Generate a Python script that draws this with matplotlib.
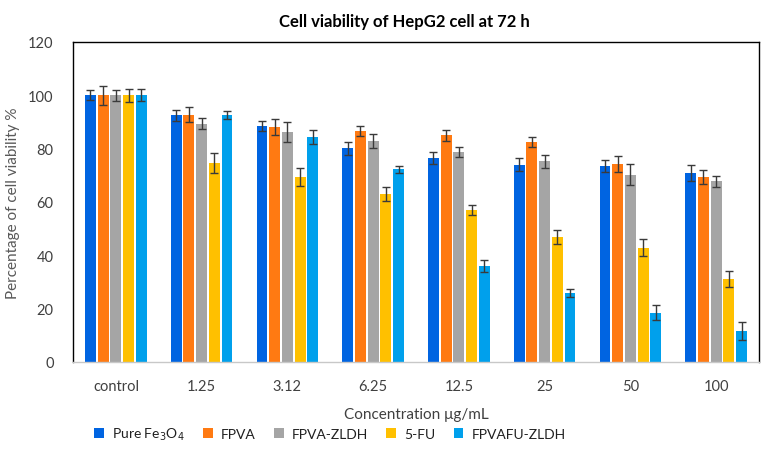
import matplotlib
matplotlib.use("Agg")
import matplotlib.pyplot as plt
import numpy as np

categories = ["control", "1.25", "3.12", "6.25", "12.5", "25", "50", "100"]
series_names = ["Pure Fe$_3$O$_4$", "FPVA", "FPVA-ZLDH", "5-FU", "FPVAFU-ZLDH"]
pure_fe3o4 = [100, 92.5, 88.5, 80.2, 76.5, 74.0, 73.5, 70.9]
fpva = [100, 92.8, 88.1, 86.6, 85.0, 82.5, 74.4, 69.4]
fpva_zldh = [100, 89.4, 86.2, 82.9, 78.8, 75.2, 70.2, 67.7]
fu5 = [100, 74.6, 69.4, 62.9, 56.9, 46.9, 42.9, 31.2]
fpvafu_zldh = [100, 92.7, 84.4, 72.2, 36.0, 25.9, 18.5, 11.6]
err_pure = [1.9, 2.1, 1.9, 2.4, 2.3, 2.5, 2.25, 3.0]
err_fpva = [3.6, 2.75, 2.9, 1.8, 2.0, 2.0, 3.0, 2.5]
err_fpva_zldh = [2.0, 2.0, 3.75, 2.6, 1.9, 2.6, 4.0, 2.2]
err_5fu = [2.5, 3.6, 3.4, 2.7, 1.9, 2.7, 3.1, 3.1]
err_fpvafu = [2.2, 1.4, 2.6, 1.4, 2.25, 1.6, 2.8, 3.25]

values = [pure_fe3o4, fpva, fpva_zldh, fu5, fpvafu_zldh]
errors = [err_pure, err_fpva, err_fpva_zldh, err_5fu, err_fpvafu]
colors = ["#0064E1", "#FF7A12", "#A5A5A5", "#FFC000", "#00A0EC"]

plt.rcParams['font.family'] = ['Lato', 'DejaVu Sans']

fig = plt.figure(figsize=(7.66, 4.6), dpi=100)
ax = fig.add_axes([73/766, 97/460, 686/766, 320/460])

x = np.arange(len(categories))
slot = 0.148
bw = 0.128
for i, (vals, errs, c, name) in enumerate(zip(values, errors, colors, series_names)):
    off = (i - 2) * slot
    ax.bar(x + off, vals, width=bw, color=c, label=name, zorder=2)
    ax.errorbar(x + off, vals, yerr=errs, fmt='none', ecolor='#3a3a3a',
                elinewidth=1, capsize=3, capthick=1, zorder=3)

ax.set_xlim(-0.5, len(categories) - 0.5)
ax.set_ylim(0, 120)
ax.set_yticks(np.arange(0, 121, 20))
ax.set_xticks(x)
ax.set_xticklabels(categories)
ax.tick_params(axis='both', length=0, labelsize=10.5, colors='#404040')
ax.tick_params(axis='x', pad=12)
ax.tick_params(axis='y', pad=14)

for s in ['top', 'left', 'right']:
    ax.spines[s].set_color('black')
    ax.spines[s].set_linewidth(1.0)
ax.spines['bottom'].set_color('#C8C8C8')
ax.spines['bottom'].set_linewidth(1.0)

ax.set_ylabel("Percentage of cell viability %", fontsize=11, color='#595959', labelpad=6)
ax.set_xlabel("Concentration μg/mL", fontsize=11, color='#404040', labelpad=10)
fig.text(404/766, 1 - 22/460, "Cell viability of HepG2 cell at 72 h", ha='center', va='center',
         fontsize=12, fontweight='bold', color='black')

handles, labels = ax.get_legend_handles_labels()
leg = fig.legend(handles, labels, loc='center', bbox_to_anchor=(330/766, 1 - 435/460), ncol=5,
                 frameon=False, fontsize=10, handlelength=0.7, handleheight=0.7,
                 handletextpad=0.6, columnspacing=1.3, labelcolor='#202020')

fig.savefig("out.png", dpi=100)
